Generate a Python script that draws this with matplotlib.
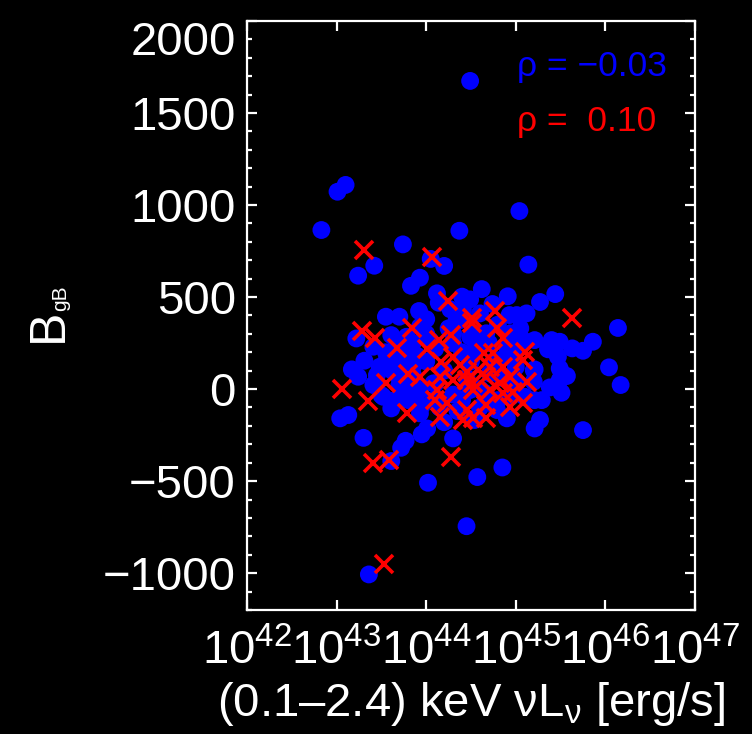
import numpy as np
import matplotlib
matplotlib.use('Agg')
import matplotlib.pyplot as plt
from matplotlib.ticker import MultipleLocator, NullLocator, FixedLocator, LogFormatterMathtext

plt.rcParams['font.family'] = 'Liberation Sans'
plt.rcParams['mathtext.fontset'] = 'custom'
plt.rcParams['mathtext.rm'] = 'Liberation Sans'
plt.rcParams['mathtext.it'] = 'Liberation Sans'
plt.rcParams['mathtext.bf'] = 'Liberation Sans:bold'

# ---- data (log10 of luminosity, B_gB) ----
blue_logL = [44.49, 43.10, 43.01, 42.83, 45.04, 44.37, 43.74, 43.24, 43.42, 44.05,
             44.20, 45.14, 43.93, 43.83, 44.12, 44.62, 44.40, 44.49, 44.91, 45.44,
             45.27, 44.14, 44.74, 44.27, 43.55, 43.70, 43.92, 45.12, 44.93, 45.01,
             46.14, 43.22, 43.41, 43.31, 43.17, 43.24, 43.04, 43.13, 43.30, 43.72,
             43.77, 43.95, 44.01, 44.30, 43.61, 44.02, 44.57, 44.85, 44.45, 43.36,
             45.75, 46.17, 46.04, 45.86, 45.75, 45.63, 45.49, 45.40, 45.36, 45.47,
             45.49, 45.57, 45.49, 45.38, 45.51, 45.29, 45.21, 45.27, 45.21, 44.90,
             45.21, 45.08, 45.20, 45.20, 44.54, 43.61, 43.93, 43.52, 43.41, 43.45,
             43.56, 43.48, 43.67, 43.78, 43.84, 43.93, 43.61, 43.74, 43.86, 43.78,
             43.93, 43.74, 43.43, 43.50, 44.04, 44.08, 44.08, 44.38, 44.49, 44.49,
             44.30, 45.21, 44.60, 44.67, 44.94, 44.57, 44.97, 44.82, 44.71, 44.94,
             44.79, 45.10, 44.34, 44.41, 42.88,
             44.00, 44.20, 44.40, 44.60, 44.70, 44.30, 44.10, 43.90, 43.70, 43.62,
             44.85, 44.90, 45.00, 44.50, 44.25, 44.70, 43.65, 43.70, 44.15, 44.35,
             44.60, 44.80, 44.00, 43.85, 44.45, 45.00, 45.05, 44.20, 43.55, 44.75,
             43.60, 43.75, 43.85, 44.00, 44.10, 44.30, 44.55, 44.65, 44.80, 45.05,
             44.95, 43.80, 43.95, 44.40, 44.55]
blue_B = [1674, 1109, 1072, 864, 967, 860, 786, 616, 670, 707,
          669, 676, 605, 561, 520, 543, 502, 487, 504, 516,
          473, 469, 462, 433, 393, 393, 424, 411, 402, 402,
          332, 275, 230, 154, 107, 67, -159, -141, -265, -319,
          -281, -246, -214, -268, -391, -509, -478, -426, -745, -1007,
          -223, 22, 118, 257, 208, 221, 257, 266, 216, 176,
          112, 71, 49, 9, -20, -60, -60, -168, -214, -159,
          266, 266, 103, 40, -168, -105, -132, -42, 22, 76,
          158, 121, 248, 284, 203, 339, 293, 140, 67, -5,
          -5, -23, 31, -33, 266, 31, -60, 375, 284, -5,
          303, 107, 411, 303, 303, 248, 194, 158, 85, -42,
          -114, -42, 375, 429, -1265,
          150, 100, 200, 0, -50, -30, 220, 180, 60, 100,
          60, 230, 120, 150, 330, 250, -60, 20, -100, -120,
          -100, 350, 380, 120, 60, 30, 330, -180, 200, 150,
          180, 200, 250, 300, 30, 250, 300, -20, -60, 250,
          180, -60, -90, -60, 220]

red_logL = [43.30, 44.07, 44.24, 44.77, 45.63, 44.51, 43.28, 43.43, 43.67, 43.84,
            43.06, 43.35, 43.55, 43.80, 43.93, 43.79, 44.51, 44.28, 44.14, 44.01,
            44.17, 44.30, 44.38, 44.45, 44.15, 44.30, 44.45, 44.52, 44.12, 44.10,
            44.23, 44.15, 44.45, 44.52, 44.41, 44.79, 44.86, 45.10, 45.08, 44.64,
            44.75, 44.58, 44.71, 44.86, 44.94, 45.12, 44.82, 44.67, 44.52, 44.97,
            44.86, 44.71, 45.08, 44.94, 44.67, 44.67, 44.28, 43.41, 43.59, 43.53]
red_B = [755, 719, 478, 424, 384, 384, 317, 279, 224, 333,
         -2, -65, 34, 80, 67, -132, 360, 293, 266, 216,
         148, 176, 130, 94, 67, 49, 49, -5, -5, -60,
         -78, -150, -114, -159, -168, 330, 275, 203, 158, 194,
         194, 103, 121, 121, 67, 40, 31, 67, 31, -15,
         -23, -5, -78, -96, -87, -159, -368, -404, -386, -953]

rho_blue = -0.03
rho_red = 0.10
x_decades = [42, 43, 44, 45, 46, 47]
y_ticks = [-1000, -500, 0, 500, 1000, 1500, 2000]

fig = plt.figure(figsize=(7.52, 7.34), dpi=100, facecolor='black')
ax = fig.add_axes([0.3285, 0.169, 0.5957, 0.8025], facecolor='black')

ax.scatter(10**np.array(blue_logL), blue_B, s=165, color='#0000ff',
           edgecolors='none', zorder=2)
ax.plot(10**np.array(red_logL), red_B, 'x', color='#ff0000', ms=12.5,
        mew=2.6, zorder=3)

ax.set_xscale('log')
ax.set_xlim(1e42, 1e47)
ax.set_ylim(-1200, 2000)
ax.xaxis.set_major_locator(FixedLocator([10.0**d for d in x_decades]))
ax.xaxis.set_major_formatter(LogFormatterMathtext())
ax.xaxis.set_minor_locator(NullLocator())
ax.set_yticks(y_ticks)
ax.yaxis.set_minor_locator(MultipleLocator(100))

for sp in ax.spines.values():
    sp.set_color('white')
    sp.set_linewidth(1.6)
ax.tick_params(which='both', direction='in', top=True, right=True,
               colors='white', width=1.6, labelsize=34)
ax.tick_params(which='major', length=7.5)
ax.tick_params(which='minor', length=3.5)
ax.tick_params(axis='y', pad=8)
ax.tick_params(axis='x', pad=14)

# top label sits below its tick, as in the original
ax.yaxis.get_major_ticks()[-1].label1.set_va('top')

ax.set_xlabel(r'(0.1–2.4) keV νL$_\mathrm{ν}$ [erg/s]', color='white',
              fontsize=34, labelpad=4)

# y label: large B with a small gB subscript
fig.text(62 / 752, 1 - 342 / 734, 'B', rotation=90, rotation_mode='anchor',
         ha='left', va='baseline', color='white', fontsize=36)
fig.text(66 / 752, 1 - 311 / 734, 'gB', rotation=90, rotation_mode='anchor',
         ha='left', va='baseline', color='white', fontsize=15)

ax.text(0.603, 0.907, f'ρ = −{abs(rho_blue):.2f}', transform=ax.transAxes,
        color='#0000ff', fontsize=25.5, ha='left', va='baseline')
ax.text(0.603, 0.813, f'ρ =  {rho_red:.2f}', transform=ax.transAxes,
        color='#ff0000', fontsize=25.5, ha='left', va='baseline')

fig.savefig('out.png', dpi=100, facecolor='black')
